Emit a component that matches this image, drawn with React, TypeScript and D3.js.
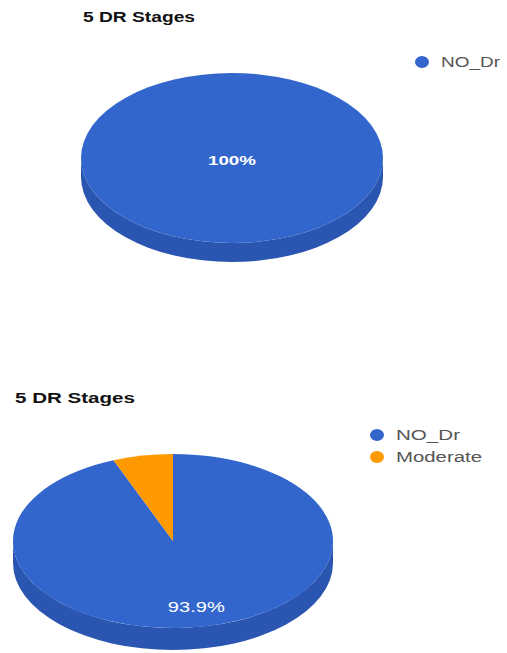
import React from "react";
import * as d3 from "d3";

const titles = ["5 DR Stages", "5 DR Stages"];
const topCategories = ["NO_Dr"];
const topValues = [33];
const bottomCategories = ["NO_Dr", "Moderate"];
const bottomValues = [31, 2];
const colors = ["#3366CC", "#FF9900"];
const sideColors = ["#2a55b0", "#cc7a00"];

type PieSpec = {
  cats: string[];
  vals: number[];
  cx: number;
  cy: number;
  rx: number;
  ry: number;
  depth: number;
  title: string;
  titleX: number;
  titleY: number;
  titleW: number;
  legendX: number;
  legendY: number;
  legendW: number[];
  label: { fs: number; w: number; r: number; dy: number; weight: string };
};

function Pie3D({ s }: { s: PieSpec }) {
  const pie = d3.pie<number>().sort(null).startAngle(0).endAngle(2 * Math.PI);
  const arcs = pie(s.vals);
  const total = d3.sum(s.vals);
  const pt = (a: number, dz = 0): [number, number] => [
    s.cx + s.rx * Math.sin(a),
    s.cy - s.ry * Math.cos(a) + dz,
  ];
  const fmt = (v: number) => {
    const p = (v / total) * 100;
    return (Math.abs(p - Math.round(p)) < 1e-9 ? d3.format(".0f")(p) : d3.format(".1f")(p)) + "%";
  };
  const sides = arcs.map((a, i) => {
    const s0 = Math.max(a.startAngle, Math.PI / 2);
    const s1 = Math.min(a.endAngle, (3 * Math.PI) / 2);
    if (s1 <= s0) return null;
    const p0 = pt(s0), p1 = pt(s1), q1 = pt(s1, s.depth), q0 = pt(s0, s.depth);
    const d = `M${p0[0]},${p0[1]} A${s.rx},${s.ry} 0 0 1 ${p1[0]},${p1[1]} L${q1[0]},${q1[1]} A${s.rx},${s.ry} 0 0 0 ${q0[0]},${q0[1]} Z`;
    return <path key={"s" + i} d={d} fill={sideColors[i]} />;
  });
  const tops = arcs.map((a, i) => {
    const span = a.endAngle - a.startAngle;
    if (span >= 2 * Math.PI - 1e-9) {
      return <ellipse key={"t" + i} cx={s.cx} cy={s.cy} rx={s.rx} ry={s.ry} fill={colors[i]} />;
    }
    const p0 = pt(a.startAngle), p1 = pt(a.endAngle);
    const large = span > Math.PI ? 1 : 0;
    const d = `M${s.cx},${s.cy} L${p0[0]},${p0[1]} A${s.rx},${s.ry} 0 ${large} 1 ${p1[0]},${p1[1]} Z`;
    return <path key={"t" + i} d={d} fill={colors[i]} />;
  });
  const labels = arcs.map((a, i) => {
    const share = a.value / total;
    if (share < 0.1) return null;
    const full = share >= 1 - 1e-9;
    const mid = (a.startAngle + a.endAngle) / 2;
    const [x, y] = full ? [s.cx, s.cy] : pt(mid, 0).map((v, k) => (k === 0 ? s.cx + (v - s.cx) * s.label.r : s.cy + (v - s.cy) * s.label.r)) as [number, number];
    return (
      <text key={"l" + i} x={x} y={y + s.label.dy} textAnchor="middle" fill="#ffffff"
        fontSize={s.label.fs} fontWeight={s.label.weight} fontFamily="Liberation Sans, Arial, sans-serif"
        textLength={s.label.w} lengthAdjust="spacingAndGlyphs">
        {fmt(a.value)}
      </text>
    );
  });
  return (
    <g>
      <text x={s.titleX} y={s.titleY} fontSize={14} fontWeight="bold" fill="#111"
        fontFamily="Liberation Sans, Arial, sans-serif" textLength={s.titleW} lengthAdjust="spacingAndGlyphs">
        {s.title}
      </text>
      {sides}
      {tops}
      {labels}
      {s.cats.map((c, i) => (
        <g key={c}>
          <ellipse cx={s.legendX} cy={s.legendY + i * 22} rx={7} ry={6} fill={colors[i]} />
          <text x={s.legendX + 19} y={s.legendY + i * 22 + 5} fontSize={14} fill="#555"
            fontFamily="Liberation Sans, Arial, sans-serif" textLength={s.legendW[i]} lengthAdjust="spacingAndGlyphs">
            {c}
          </text>
        </g>
      ))}
    </g>
  );
}

export default function App() {
  const top: PieSpec = {
    cats: topCategories, vals: topValues,
    cx: 232, cy: 158, rx: 151, ry: 85, depth: 19,
    title: titles[0], titleX: 83, titleY: 22, titleW: 112,
    legendX: 422, legendY: 62, legendW: [59],
    label: { fs: 12, w: 48, r: 0, dy: 7, weight: "bold" },
  };
  const bottom: PieSpec = {
    cats: bottomCategories, vals: bottomValues,
    cx: 173, cy: 541, rx: 160, ry: 87, depth: 22,
    title: titles[1], titleX: 15, titleY: 403, titleW: 120,
    legendX: 377, legendY: 435, legendW: [64, 86],
    label: { fs: 14, w: 57, r: 0.77, dy: 5, weight: "normal" },
  };
  return (
    <svg width={507} height={653} style={{ position: "absolute", left: 0, top: 0, background: "#fff" }}>
      <Pie3D s={top} />
      <Pie3D s={bottom} />
    </svg>
  );
}
